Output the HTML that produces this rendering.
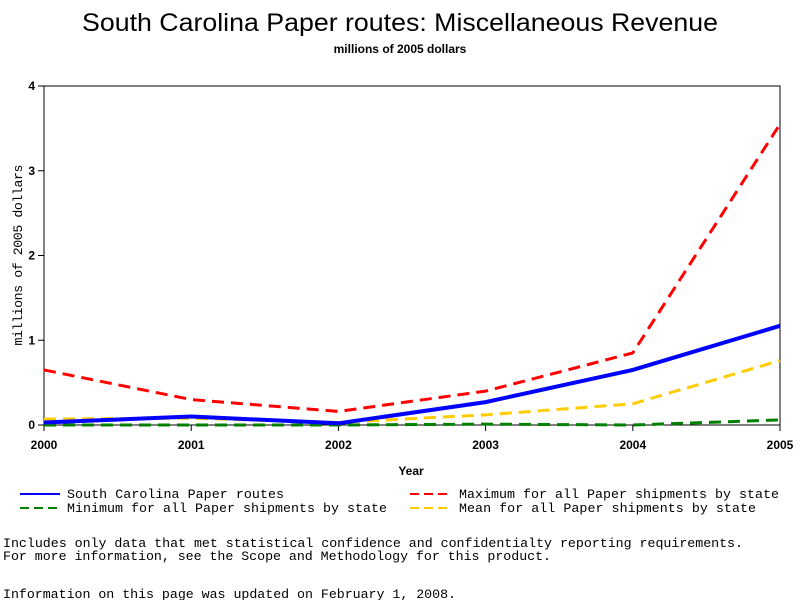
<!DOCTYPE html>
<html><head><meta charset="utf-8"><style>
body{margin:0;background:#fff;width:800px;height:600px;overflow:hidden}
svg{display:block}
.m{font-family:"Liberation Mono",monospace;font-size:13.3px}
.t{font-family:"Liberation Sans",sans-serif}
</style></head><body>
<svg id="c" width="800" height="600">
<text class="t" x="400" y="31" text-anchor="middle" font-size="25" textLength="636" lengthAdjust="spacingAndGlyphs">South Carolina Paper routes: Miscellaneous Revenue</text>
<text class="t" x="400" y="53" text-anchor="middle" font-size="12" font-weight="bold">millions of 2005 dollars</text>
<rect x="44" y="86" width="736" height="339" fill="none" stroke="#000"/>
<g id="ticks"></g>
<g id="series"></g>
<text class="t" x="411" y="475" text-anchor="middle" font-size="12" font-weight="bold">Year</text>
<text class="m" transform="translate(22,255) rotate(-90)" text-anchor="middle" font-size="12" textLength="181">millions of 2005 dollars</text>
<g>
<g><line x1="20" y1="494" x2="60" y2="494" stroke="#0000ff" stroke-width="2"/><text class="m" x="67" y="498" textLength="217">South Carolina Paper routes</text></g>
<g><line x1="410" y1="494" x2="452" y2="494" stroke="#ff0000" stroke-width="2" stroke-dasharray="9,5"/><text class="m" x="459" y="498" textLength="320">Maximum for all Paper shipments by state</text></g>
<g><line x1="20" y1="508" x2="60" y2="508" stroke="#008000" stroke-width="2" stroke-dasharray="9,5"/><text class="m" x="67" y="512" textLength="320">Minimum for all Paper shipments by state</text></g>
<g><line x1="410" y1="508" x2="452" y2="508" stroke="#ffcc00" stroke-width="2" stroke-dasharray="9,5"/><text class="m" x="459" y="512" textLength="297">Mean for all Paper shipments by state</text></g>
</g>
<text class="m" x="3" y="547" textLength="740">Includes only data that met statistical confidence and confidentialty reporting requirements.</text>
<text class="m" x="3" y="560" textLength="548">For more information, see the Scope and Methodology for this product.</text>
<text class="m" x="3" y="598" textLength="453">Information on this page was updated on February 1, 2008.</text>
</svg>
<script>
const years=[2000,2001,2002,2003,2004,2005];
const yTicks=[0,1,2,3,4];
const scVals=[0.03,0.10,0.02,0.27,0.65,1.17];
const maxVals=[0.65,0.30,0.16,0.40,0.85,3.55];
const minVals=[0.00,0.00,0.00,0.01,0.00,0.06];
const meanVals=[0.07,0.08,0.03,0.12,0.25,0.76];
const NS="http://www.w3.org/2000/svg";
const X=v=>44+(v-2000)/5*736;
const Y=v=>425-v/4*339;
const tg=document.getElementById('ticks');
function mk(t,a,p){const e=document.createElementNS(NS,t);for(const k in a)e.setAttribute(k,a[k]);p.appendChild(e);return e;}
yTicks.forEach(v=>{
 const l=mk('line',{x1:38,x2:44,y1:Y(v),y2:Y(v),stroke:'#000'},tg);
 
 
 const t=mk('text',{x:35,y:Y(v)+4,'text-anchor':'end','font-size':12,'font-weight':'bold','font-family':'Liberation Sans, sans-serif'},tg);
 t.textContent=v;
 
 
});
years.forEach(v=>{
 const l=mk('line',{x1:X(v),x2:X(v),y1:425,y2:431,stroke:'#000'},tg);
 
 
 const t=mk('text',{x:X(v),y:449,'text-anchor':'middle','font-size':12,'font-weight':'bold','font-family':'Liberation Sans, sans-serif'},tg);
 t.textContent=v;
 
 
});
const sg=document.getElementById('series');
function line(vals,color,dash,name){
 const p=mk('polyline',{points:vals.map((v,i)=>X(years[i])+','+Y(v)).join(' '),fill:'none',stroke:color,'stroke-width':dash?3:4},sg);
 if(dash)p.setAttribute('stroke-dasharray','12,7');
 
 
}
line(minVals,'#008000',true,'min-line');
line(meanVals,'#ffcc00',true,'mean-line');
line(scVals,'#0000ff',false,'sc-line');
line(maxVals,'#ff0000',true,'max-line');
</script>
</body></html>
